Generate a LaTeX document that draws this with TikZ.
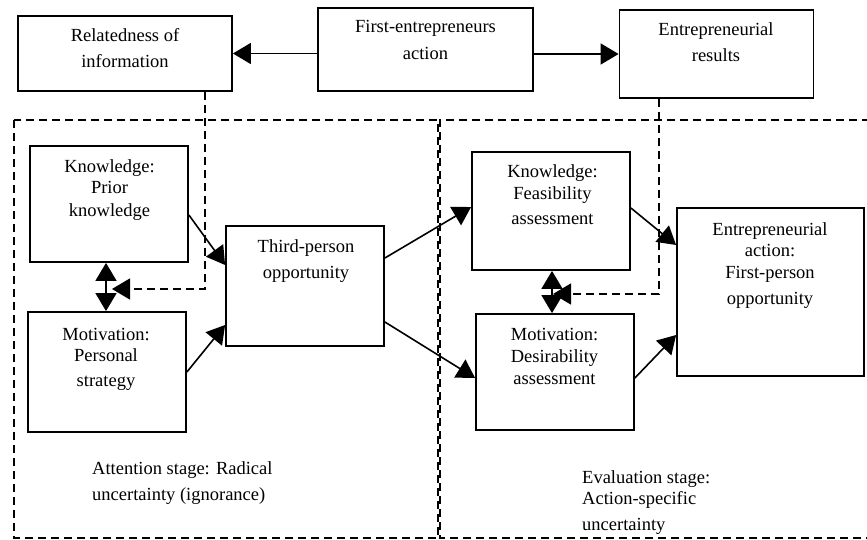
\documentclass[tikz,border=0pt]{standalone}
\usepackage{fontspec}
\setmainfont{Liberation Serif}
\usetikzlibrary{arrows.meta,calc}
\begin{document}
\begin{tikzpicture}[x=1pt,y=-1pt,
  box/.style={draw,line width=1.8pt,inner sep=0pt},
  txt/.style={inner sep=0pt,anchor=base,font=\fontsize{18.5pt}{22pt}\selectfont},
  ltxt/.style={txt,anchor=base west},
  arr/.style={line width=1.6pt,-{Triangle[length=18pt,width=21pt]}},
  darr/.style={line width=1.6pt,{Triangle[length=18pt,width=21pt]}-{Triangle[length=18pt,width=21pt]}},
  dsh/.style={line width=1.5pt,dash pattern=on 8pt off 5pt},
  darrow/.style={dsh,-{Triangle[length=18pt,width=21pt]}}]
\useasboundingbox (0,0) rectangle (867,540);
% stage regions
\draw[dsh] (14,120) rectangle (438,538);
\draw[dsh] (870,120) -- (440,120) -- (440,538) -- (870,538);
% boxes
\node[box,minimum width=214pt,minimum height=75pt] (rel) at (125,53.5) {};
\node[box,minimum width=215pt,minimum height=83pt] (first) at (425.5,49.5) {};
\node[box,minimum width=194pt,minimum height=88pt] (res) at (716.5,54) {};
\node[box,minimum width=158pt,minimum height=116pt] (kp) at (109,204) {};
\node[box,minimum width=158pt,minimum height=120pt] (mp) at (107,372) {};
\node[box,minimum width=158pt,minimum height=120pt] (third) at (305,286) {};
\node[box,minimum width=158pt,minimum height=118pt] (kf) at (551,211) {};
\node[box,minimum width=158pt,minimum height=116pt] (md) at (555,372) {};
\node[box,minimum width=187pt,minimum height=168pt] (ea) at (770.5,292) {};
% texts
\node[txt] (rel1) at (125,42) {Relatedness of};
\node[txt] (rel2) at (125,68) {information};
\node[txt] (fi1) at (425.5,33) {First-entrepreneurs};
\node[txt] (fi2) at (425.5,60) {action};
\node[txt] (re1) at (716,36) {Entrepreneurial};
\node[txt] (re2) at (716,62) {results};
\node[txt] (kp1) at (109.5,173) {Knowledge:};
\node[txt] (kp2) at (109.5,194) {Prior};
\node[txt] (kp3) at (109.5,217) {knowledge};
\node[txt] (mp1) at (106,340) {Motivation:};
\node[txt] (mp2) at (106,361) {Personal};
\node[txt] (mp3) at (106,386) {strategy};
\node[txt] (th1) at (306,252) {Third-person};
\node[txt] (th2) at (306,278) {opportunity};
\node[txt] (kf1) at (552.5,178) {Knowledge:};
\node[txt] (kf2) at (552.5,200) {Feasibility};
\node[txt] (kf3) at (552.5,224) {assessment};
\node[txt] (md1) at (554.5,340) {Motivation:};
\node[txt] (md2) at (554.5,362) {Desirability};
\node[txt] (md3) at (554.5,384) {assessment};
\node[txt] (ea1) at (770,236) {Entrepreneurial};
\node[txt] (ea2) at (770,256) {action:};
\node[txt] (ea3) at (770,278) {First-person};
\node[txt] (ea4) at (770,304) {opportunity};
\node[ltxt] (at1) at (92,474) {Attention stage: Radical};
\node[ltxt] (at2) at (92,500) {uncertainty (ignorance)};
\node[ltxt] (ev1) at (582,483) {Evaluation stage:};
\node[ltxt] (ev2) at (582,504) {Action-specific};
\node[ltxt] (ev3) at (582,530) {uncertainty};
% connectors
\draw[arr] (first.west |- rel.east) -- (rel.east);
\draw[arr] (first.east |- res.west) -- (res.west);
\draw[arr] ([yshift=-11pt]kp.east) -- ([yshift=21pt]third.west);
\draw[arr] (mp.east) -- ([yshift=-39pt]third.west);
\draw[arr] ([yshift=28pt]third.east) -- ([yshift=4pt]kf.west);
\draw[arr] ([yshift=-36pt]third.east) -- ([yshift=-6pt]md.west);
\draw[arr] ([yshift=3pt]kf.east) -- ([yshift=47pt]ea.west);
\draw[arr] ([yshift=-6pt]md.east) -- ([yshift=-43pt]ea.west);
\draw[darr] ([xshift=-3pt]kp.south) -- ([xshift=-1pt]mp.north);
\draw[darr] ([xshift=1pt]kf.south) -- ([xshift=-3pt]md.north);
\coordinate (kpj) at (112,289);
\coordinate (kfj) at (553,294);
\draw[darrow] ([xshift=80pt]rel.south) |- (kpj);
\draw[darrow] ([xshift=-57.5pt]res.south) |- (kfj);
\end{tikzpicture}
\end{document}
